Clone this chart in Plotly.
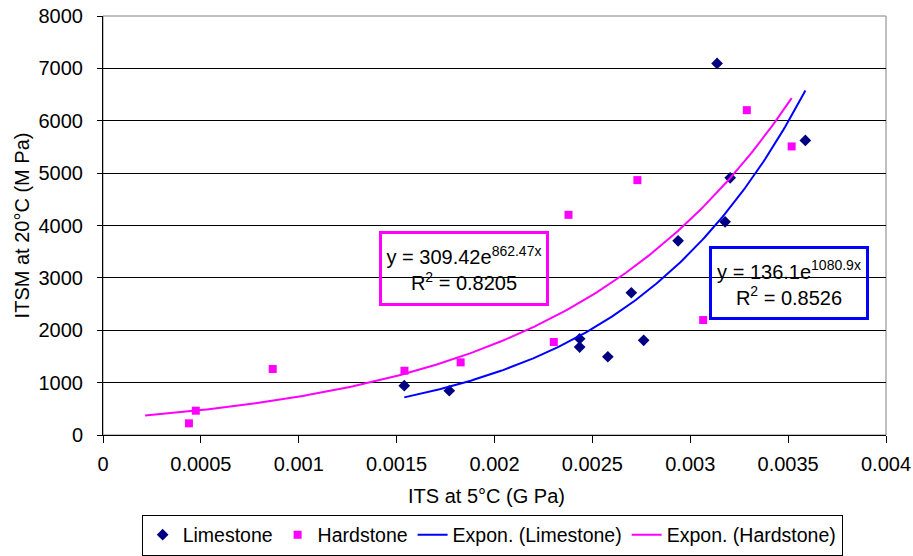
import numpy as np
import plotly.graph_objects as go

# ---- data ----
lime_x = [0.001539, 0.001769, 0.002435, 0.002435, 0.002579, 0.002699,
          0.002762, 0.002938, 0.003137, 0.003178, 0.003204, 0.003588]
lime_y = [941, 845, 1838, 1679, 1494, 2716, 1807, 3708, 7094, 4071, 4910, 5624]

hard_x = [0.000439, 0.000474, 0.000867, 0.001540, 0.001827, 0.002303,
          0.002378, 0.002730, 0.003066, 0.003289, 0.003518]
hard_y = [223, 464, 1260, 1227, 1387, 1775, 4204, 4866, 2195, 6202, 5510]

# exponential trendlines y = a * exp(b x) as printed on the chart
lime_a, lime_b, lime_r2 = 136.1, 1080.9, 0.8526
hard_a, hard_b, hard_r2 = 309.42, 862.47, 0.8205
lime_trend_range = [0.001539, 0.003588]
hard_trend_range = [0.000215, 0.003518]

x_ticks = [0, 0.0005, 0.001, 0.0015, 0.002, 0.0025, 0.003, 0.0035, 0.004]
x_labels = ["0", "0.0005", "0.001", "0.0015", "0.002", "0.0025", "0.003", "0.0035", "0.004"]
y_ticks = [0, 1000, 2000, 3000, 4000, 5000, 6000, 7000, 8000]
y_labels = [str(v) for v in y_ticks]

FONT = "Liberation Sans, Arial, sans-serif"

lx = np.linspace(lime_trend_range[0], lime_trend_range[1], 200)
hx = np.linspace(hard_trend_range[0], hard_trend_range[1], 200)

fig = go.Figure()
fig.add_trace(go.Scatter(x=lime_x, y=lime_y, mode="markers", name="Limestone",
                         marker=dict(symbol="diamond", size=9, color="#000080")))
fig.add_trace(go.Scatter(x=hard_x, y=hard_y, mode="markers", name="Hardstone",
                         marker=dict(symbol="square", size=8, color="#FF00FF")))
fig.add_trace(go.Scatter(x=lx, y=lime_a * np.exp(lime_b * lx), mode="lines",
                         name="Expon. (Limestone)", line=dict(color="#0000FF", width=2)))
fig.add_trace(go.Scatter(x=hx, y=hard_a * np.exp(hard_b * hx), mode="lines",
                         name="Expon. (Hardstone)", line=dict(color="#FF00FF", width=2)))

fig.update_layout(
    width=913, height=556,
    margin=dict(l=103, r=27, t=16, b=121, autoexpand=False),
    paper_bgcolor="white", plot_bgcolor="white",
    font=dict(family=FONT, size=20, color="black"),
    showlegend=True,
    legend=dict(orientation="h", x=0.497, xanchor="center",
                y=-(555.5 - 435) / 419, yanchor="bottom",
                bordercolor="black", borderwidth=1, font=dict(size=19.5),
                itemwidth=30, tracegroupgap=0),
    xaxis=dict(range=[0, 0.004], tickvals=x_ticks, ticktext=x_labels,
               showgrid=False, zeroline=False, showline=True, linecolor="black",
               linewidth=1, ticks="outside", ticklen=7, tickcolor="black",
               ticklabelstandoff=4, automargin=False),
    yaxis=dict(range=[0, 8000], tickvals=y_ticks, ticktext=y_labels,
               showgrid=True, gridcolor="black", gridwidth=1, zeroline=False,
               showline=True, linecolor="black", linewidth=1, ticks="outside",
               ticklen=5, tickcolor="black", ticklabelstandoff=10, automargin=False),
    shapes=[dict(type="rect", xref="paper", yref="paper", x0=0, x1=1, y0=0, y1=1,
                 line=dict(color="#808080", width=1), layer="below")],
    annotations=[
        dict(xref="paper", yref="paper", x=0.49, y=-0.146, text="ITS at 5°C (G Pa)",
             showarrow=False, xanchor="center", yanchor="middle", font=dict(size=20)),
        dict(xref="paper", yref="paper", x=(22 - 103) / 782, y=0.5,
             text="ITSM at 20°C (M Pa)", textangle=-90, showarrow=False,
             xanchor="center", yanchor="middle", font=dict(size=20)),
        dict(xref="x", yref="y", x=0.001846, y=3177,
             text=f"y = {hard_a}e<sup>{hard_b}x</sup><br>R<sup>2</sup> = {hard_r2}",
             showarrow=False, xanchor="center", yanchor="middle", align="center",
             width=164, height=69, borderpad=0, bordercolor="#FF00FF", borderwidth=3,
             font=dict(size=20)),
        dict(xref="x", yref="y", x=0.003504, y=2901,
             text=f"y = {lime_a}e<sup>{lime_b}x</sup><br>R<sup>2</sup> = {lime_r2}",
             showarrow=False, xanchor="center", yanchor="middle", align="center",
             width=154, height=68, borderpad=0, bordercolor="#0000FF", borderwidth=3,
             font=dict(size=20)),
    ],
)

fig.write_html("out.html")
